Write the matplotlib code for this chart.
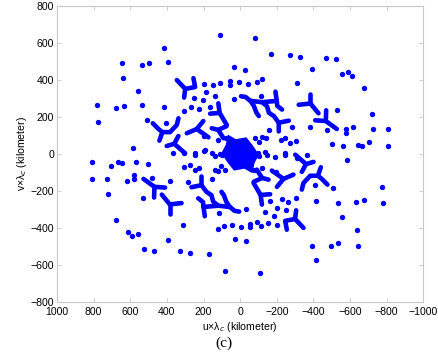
"""uv coverage scatter, panel (c)."""

import matplotlib
matplotlib.use("Agg")
import matplotlib.pyplot as plt
import numpy as np

# isolated uv samples (kilometer), upper half then lower half
iso_u_upper = [110, -80, 417, -168, -273, -329, -468, -523, 643, 496, 395, 534, 31, -26,
               -395, -556, -588, -612, 639, -122, -90, -42, 7, 56, 56, 111, 149, 200,
               -311, -676, 557, 186, 137, 31, -115, 251, 202, 781, 676, 634, 534, 414,
               266, 308, 226, 164, -528, -721, 778, 507, 405, -282, -155, -384, -477,
               -616, -579, -579, -725, -810, -120, -140, -82, -104, -222, -246, -273,
               -306, 122, 198, 77, -501, -564, -643, -667, -705, -810, 585, 368, 308,
               248, 195, 153, 108, -137, -98, -244, 191]
iso_v_upper = [643, 629, 573, 541, 535, 526, 521, 512, 494, 494, 497, 479, 470, 456,
               461, 434, 442, 422, 409, 405, 391, 380, 389, 396, 375, 385, 371, 380,
               385, 357, 339, 334, 312, 297, 315, 301, 290, 265, 247, 260, 265, 256,
               256, 234, 242, 256, 236, 216, 175, 184, 166, 147, 132, 148, 128,
               148, 134, 114, 134, 134, 94, 88, 85, 67, 76, 85, 60,
               68, 76, 97, 88, 54, 43, 49, 43, 62, 43, 34, 7, 7,
               5, 14, 5, 0, 10, 5, 3, 22]

iso_u_lower = [-110, 80, -417, 168, 275, 330, 468, 523, -643, -495, -395, -532, -31, 26,
               393, 557, 589, 614, -639, 122, 89, 44, -7, -56, -56, -113, -150, -200,
               312, 676, -556, -187, -137, -31, 113, -251, -200, -780, -676, -634, -534,
               -413, -264, -306, -229, -164, 530, 723, -776, -505, -408, 283, 153, 384,
               479, 616, 579, 579, 727, 810, 120, 140, 82, 104, 224, 244, 275, 304,
               -120, -198, -77, 501, 567, 643, 667, 703, 810, -585, -366, -310, -246,
               -190, -146, -104, 137, 98, 246, -94]
iso_v_lower = [-645, -631, -575, -542, -535, -526, -524, -513, -496, -496, -499, -481, -472, -458,
               -463, -434, -443, -423, -411, -407, -389, -382, -393, -396, -380, -388, -371, -384,
               -385, -360, -340, -335, -312, -299, -317, -304, -294, -266, -247, -259, -266,
               -256, -258, -239, -243, -256, -238, -218, -177, -185, -166, -150, -133, -148,
               -130, -148, -133, -115, -133, -133, -94, -88, -85, -67, -77, -88, -61, -68,
               -77, -97, -88, -56, -45, -50, -45, -65, -45, -34, -6, -22, -5,
               -14, -7, -11, -12, -5, -5, -366]

# dense baseline tracks (polylines through the dotted arcs)
tracks = [
    ([346, 300, 306], [400, 352, 305]),
    ([300, 246, 255], [352, 362, 410]),
    ([477, 446, 425, 441], [166, 135, 118, 72]),
    ([425, 383, 346, 337], [118, 118, 157, 193]),
    ([401, 360, 301], [43, 55, 4]),
    ([360, 337], [55, 97]),
    ([291, 237, 201], [112, 135, 178]),
    ([237, 173], [135, 90]),
    ([119, 112, 164], [274, 222, 218]),
    ([112, 73], [222, 157]),
    ([155, 120, 75], [139, 130, 150]),
    ([120, 91], [130, 85]),
    ([-5, -30, -56, -75, -89, -102], [312, 308, 287, 260, 223, 205]),
    ([-56, -120, -200], [287, 280, 287]),
    ([-193, -200, -203, -229], [337, 287, 260, 240]),
    ([-120, -147, -157, -184, -211], [280, 258, 223, 205, 169]),
    ([-266, -211, -211], [180, 169, 122]),
    ([-320, -384, -428], [266, 273, 220]),
    ([-384, -384], [273, 325]),
    ([-410, -468, -528], [182, 178, 135]),
    ([-468, -470], [178, 236]),
    # conjugate tracks in the lower half
    ([-346, -300, -306], [-400, -352, -305]),
    ([-300, -246, -255], [-352, -362, -410]),
    ([-477, -446, -425, -441], [-166, -135, -118, -72]),
    ([-425, -383, -346, -337], [-118, -118, -157, -193]),
    ([-401, -360, -301], [-43, -55, -4]),
    ([-360, -337], [-55, -97]),
    ([-291, -237, -201], [-112, -135, -178]),
    ([-237, -173], [-135, -90]),
    ([-119, -112, -164], [-274, -222, -218]),
    ([-112, -73], [-222, -157]),
    ([-155, -120, -75], [-139, -130, -150]),
    ([-120, -91], [-130, -85]),
    ([5, 30, 56, 75, 89, 102], [-312, -308, -287, -260, -223, -205]),
    ([56, 120, 200], [-287, -280, -287]),
    ([193, 200, 203, 229], [-337, -287, -260, -240]),
    ([120, 147, 157, 184, 211], [-280, -258, -223, -205, -169]),
    ([266, 211, 211], [-180, -169, -122]),
    ([320, 384, 428], [-266, -273, -220]),
    ([384, 384], [-273, -325]),
    ([410, 468, 528], [-182, -178, -135]),
    ([468, 470], [-178, -236]),
]

# short-baseline blob at the origin
star_u = [60, 25, -30, -62, -92, -70, -60, -25, 30, 62, 92, 70]
star_v = [90, 70, 80, 40, -5, -45, -90, -70, -80, -40, 5, 45]

xticks = [1000, 800, 600, 400, 200, 0, -200, -400, -600, -800, -1000]
yticks = [-800, -600, -400, -200, 0, 200, 400, 600, 800]

blue = "#0000ff"
plt.rcParams["font.family"] = ["Liberation Sans", "DejaVu Sans"]

fig = plt.figure(figsize=(4.39, 3.58), dpi=100)
ax = fig.add_axes([0.130, 0.157, 0.834, 0.826])

for tu, tv in tracks:
    ax.plot(tu, tv, color=blue, lw=3.3, solid_capstyle="round",
            solid_joinstyle="round", zorder=2)
ax.fill(star_u, star_v, color=blue, lw=2.5, zorder=2)
ax.scatter(iso_u_upper + iso_u_lower, iso_v_upper + iso_v_lower,
           s=15, color=blue, linewidths=0, zorder=3)

ax.set_xlim(1000, -1000)
ax.set_ylim(-800, 800)
ax.set_xticks(xticks)
ax.set_yticks(yticks)
ax.tick_params(direction="in", length=3, width=0.6, color="#c8c8c8",
               labelsize=7.6, top=True, right=True)
ax.tick_params(axis="x", pad=4)
ax.tick_params(axis="y", pad=2)
for sp in ax.spines.values():
    sp.set_color("#c8c8c8")
    sp.set_linewidth(0.8)

ax.set_xlabel("u×λ$_c$ (kilometer)", fontsize=7.6, labelpad=2)
ax.set_ylabel("v×λ$_c$ (kilometer)", fontsize=7.6, labelpad=1)
fig.text(0.51, 0.04, "(c)", family="Liberation Serif", fontsize=11,
         ha="center", va="center")

fig.savefig("out.png", dpi=100)
